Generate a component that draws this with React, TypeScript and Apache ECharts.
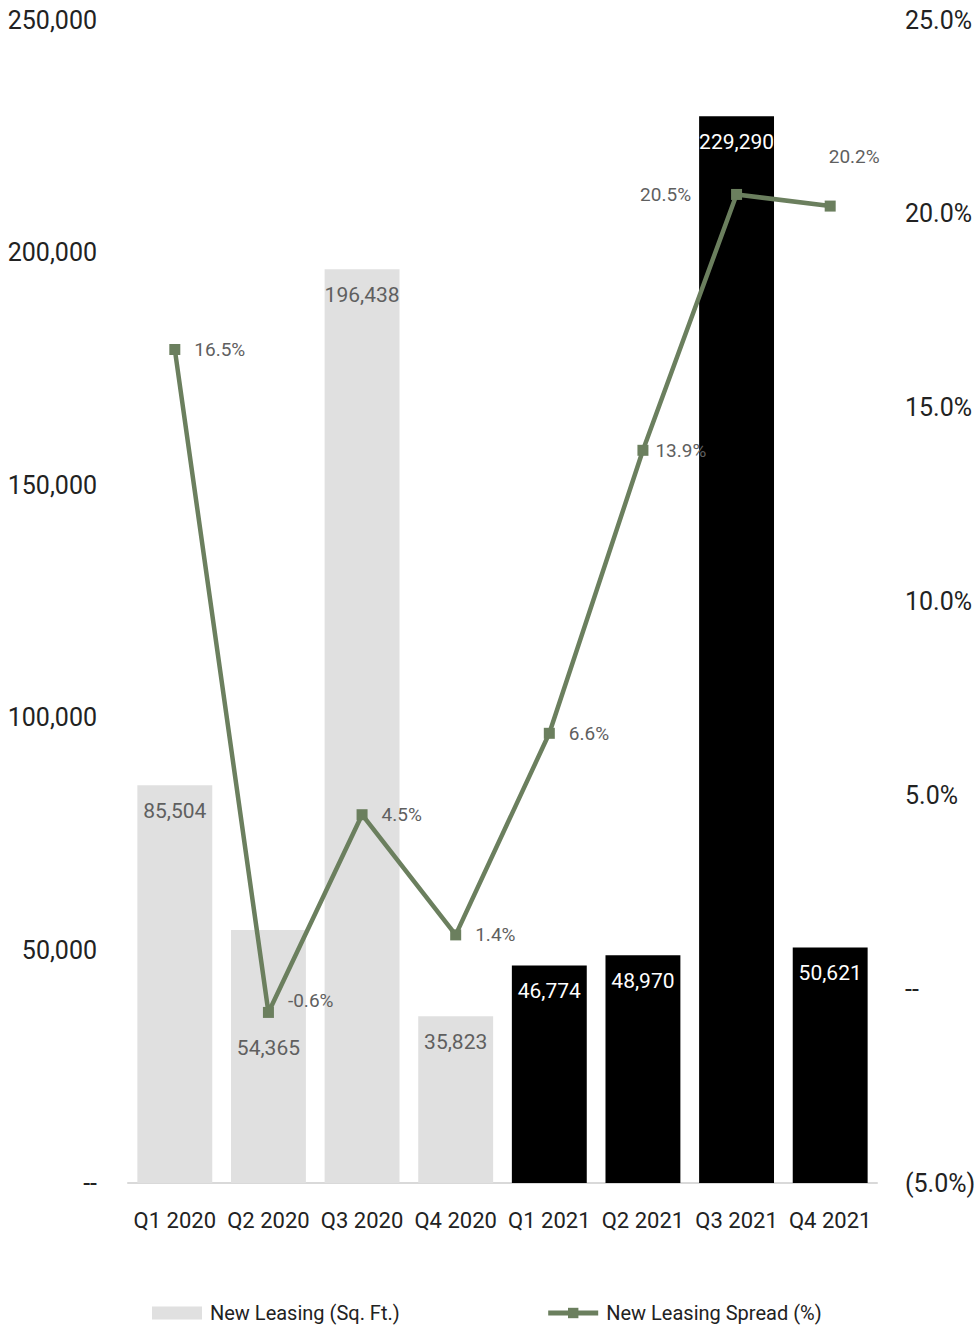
import React, { useEffect, useRef } from "react";
import * as echarts from "echarts";

const categories = ["Q1 2020", "Q2 2020", "Q3 2020", "Q4 2020", "Q1 2021", "Q2 2021", "Q3 2021", "Q4 2021"];
const leasingSqFt = [85504, 54365, 196438, 35823, 46774, 48970, 229290, 50621];
const leasingSpread = [16.5, -0.6, 4.5, 1.4, 6.6, 13.9, 20.5, 20.2];
const barColors = ["#e0e0e0", "#e0e0e0", "#e0e0e0", "#e0e0e0", "#000000", "#000000", "#000000", "#000000"];
const barLabelColors = ["#5f5f5f", "#5f5f5f", "#5f5f5f", "#5f5f5f", "#ffffff", "#ffffff", "#ffffff", "#ffffff"];
const leftTicks = { min: 0, max: 250000, interval: 50000 };
const rightTicks = { min: -5, max: 25, interval: 5 };
const seriesNames = ["New Leasing (Sq. Ft.)", "New Leasing Spread (%)"];

const FONT = "Roboto, 'Noto Sans', sans-serif";
const LINE_COLOR = "#6b7f5e";

const fmtNum = (v: number) => v.toLocaleString("en-US");

export default function App() {
  const ref = useRef<HTMLDivElement>(null);
  useEffect(() => {
    if (!ref.current) return;
    const chart = echarts.init(ref.current, undefined, { renderer: "svg" });

    const barData = leasingSqFt.map((v, i) => {
      const item: any = {
        value: v,
        itemStyle: { color: barColors[i] },
        label: { color: barLabelColors[i] },
      };
      if (i === 1) item.label.offset = [0, 92];
      return item;
    });

    const lineData = leasingSpread.map((v, i) => {
      const item: any = { value: v };
      if (i === 1) item.label = { offset: [0, -12] };
      if (i === 5) item.label = { distance: 7 };
      if (i === 6) item.label = { position: "left", distance: 40 };
      if (i === 7) item.label = { position: "top", distance: 35, offset: [24, 0] };
      return item;
    });

    chart.setOption({
      animation: false,
      textStyle: { fontFamily: FONT },
      grid: { left: 128, right: 97, top: 20, bottom: 142, containLabel: false, outerBoundsMode: "none" },
      legend: {
        left: 147,
        top: 1298,
        itemWidth: 50,
        itemHeight: 13,
        itemGap: 146,
        textStyle: { fontFamily: FONT, fontSize: 20, color: "#222", padding: [0, 0, 0, 3] },
        data: [
          { name: seriesNames[0], icon: "rect", itemStyle: { color: "#e0e0e0" } },
          { name: seriesNames[1], lineStyle: { width: 5, color: LINE_COLOR } },
        ],
      },
      xAxis: {
        type: "category",
        data: categories,
        axisLine: { lineStyle: { color: "#d9d9d9", width: 2 } },
        axisTick: { show: false },
        axisLabel: { color: "#222", fontSize: 22, margin: 26, fontFamily: FONT, interval: 0, hideOverlap: false },
      },
      yAxis: [
        {
          type: "value",
          min: leftTicks.min,
          max: leftTicks.max,
          interval: leftTicks.interval,
          splitLine: { show: false },
          axisLine: { show: false },
          axisTick: { show: false },
          axisLabel: {
            color: "#222",
            fontSize: 25,
            margin: 31,
            fontFamily: FONT,
            formatter: (v: number) => (v === 0 ? "--" : fmtNum(v)),
          },
        },
        {
          type: "value",
          min: rightTicks.min,
          max: rightTicks.max,
          interval: rightTicks.interval,
          splitLine: { show: false },
          axisLine: { show: false },
          axisTick: { show: false },
          axisLabel: {
            color: "#222",
            fontSize: 25,
            margin: 28,
            fontFamily: FONT,
            formatter: (v: number) =>
              v === 0 ? "--" : v < 0 ? `(${Math.abs(v).toFixed(1)}%)` : `${v.toFixed(1)}%`,
          },
        },
      ],
      series: [
        {
          name: seriesNames[0],
          type: "bar",
          yAxisIndex: 0,
          barWidth: "80%",
          data: barData,
          itemStyle: { color: "#e0e0e0" },
          label: {
            show: true,
            position: "insideTop",
            distance: 15,
            fontSize: 21,
            fontFamily: FONT,
            formatter: (p: any) => fmtNum(p.value),
          },
        },
        {
          name: seriesNames[1],
          type: "line",
          yAxisIndex: 1,
          data: lineData,
          symbol: "rect",
          symbolSize: 11,
          lineStyle: { color: LINE_COLOR, width: 4.5 },
          itemStyle: { color: LINE_COLOR },
          label: {
            show: true,
            position: "right",
            distance: 14,
            color: "#5f5f5f",
            fontSize: 19,
            fontFamily: FONT,
            formatter: (p: any) => `${p.value.toFixed(1)}%`,
          },
        },
      ],
    });
    return () => chart.dispose();
  }, []);

  return (
    <div
      ref={ref}
      style={{ position: "absolute", left: 0, top: 0, width: 974, height: 1325, background: "#fff" }}
    />
  );
}
